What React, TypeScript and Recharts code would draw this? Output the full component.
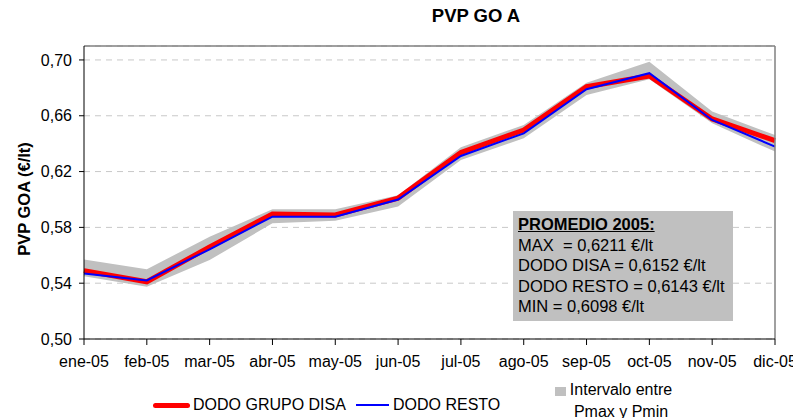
import React from 'react';
import { ComposedChart, Line, Area, XAxis, YAxis, CartesianGrid, ReferenceLine } from 'recharts';

const months = ['ene-05', 'feb-05', 'mar-05', 'abr-05', 'may-05', 'jun-05', 'jul-05', 'ago-05', 'sep-05', 'oct-05', 'nov-05', 'dic-05'];
const disa = [0.549, 0.541, 0.566, 0.5896, 0.5889, 0.601, 0.6336, 0.6498, 0.6808, 0.6885, 0.6577, 0.6422];
const resto = [0.547, 0.542, 0.5643, 0.5877, 0.5877, 0.6, 0.6312, 0.6474, 0.679, 0.6905, 0.657, 0.6379];
const pmax = [0.557, 0.55, 0.5733, 0.593, 0.593, 0.603, 0.6374, 0.6534, 0.6837, 0.6988, 0.663, 0.6462];
const pmin = [0.545, 0.5375, 0.5566, 0.5829, 0.5848, 0.595, 0.6283, 0.6439, 0.6749, 0.6862, 0.6546, 0.6343];
const yTicks = [0.5, 0.54, 0.58, 0.62, 0.66, 0.7];
const summaryLines = ['MAX  = 0,6211 €/lt', 'DODO DISA = 0,6152 €/lt', 'DODO RESTO = 0,6143 €/lt', 'MIN = 0,6098 €/lt'];

const data = months.map((m, i) => ({ month: m, disa: disa[i], resto: resto[i], band: [pmin[i], pmax[i]] }));

const FONT = '"Liberation Sans", Arial, sans-serif';
const fmt = (v: number) => v.toFixed(2).replace('.', ',');

const abs = (extra: React.CSSProperties): React.CSSProperties => ({ position: 'absolute', whiteSpace: 'pre', ...extra });

export default function App() {
  return (
    <div style={{ position: 'absolute', left: 0, top: 0, width: 793, height: 418, background: '#fff', fontFamily: FONT, overflow: 'hidden', color: '#000' }}>
      <ComposedChart width={793} height={418} data={data} margin={{ top: 46, right: 18, bottom: 49, left: 0 }}>
        <CartesianGrid horizontal vertical={false} stroke="#c8c8c8" strokeDasharray="6 5" />
        <Area dataKey="band" type="linear" fill="#c0c0c0" fillOpacity={1} stroke="none" isAnimationActive={false} activeDot={false} />
        <Line dataKey="disa" type="linear" stroke="#ff0000" strokeWidth={5} dot={false} activeDot={false} isAnimationActive={false} />
        <Line dataKey="resto" type="linear" stroke="#0000ff" strokeWidth={2} dot={false} activeDot={false} isAnimationActive={false} />
        <ReferenceLine y={0.71} stroke="#808080" strokeWidth={1.5} />
        <ReferenceLine x="dic-05" stroke="#808080" strokeWidth={1.5} />
        <XAxis dataKey="month" interval={0} height={30} tickSize={6} tickMargin={11} stroke="#000"
          tick={{ fill: '#000', fontSize: 16, fontFamily: FONT }} />
        <YAxis domain={[0.5, 0.71]} ticks={yTicks} width={84} tickSize={5} tickMargin={7} stroke="#000"
          tickFormatter={fmt} tick={{ fill: '#000', fontSize: 16, fontFamily: FONT }} allowDataOverflow />
      </ComposedChart>

      <div style={abs({ left: 476, top: 16, transform: 'translate(-50%, -50%)', fontSize: 18.5, fontWeight: 'bold', lineHeight: '22px' })}>PVP GO A</div>
      <div style={abs({ left: 24, top: 199, transform: 'translate(-50%, -50%) rotate(-90deg)', fontSize: 16.5, fontWeight: 'bold', lineHeight: '20px' })}>PVP GOA (€/lt)</div>

      <div style={abs({ left: 513, top: 211, width: 220, height: 110, background: '#c0c0c0', boxSizing: 'border-box', paddingLeft: 5, paddingTop: 3, fontSize: 16.5, lineHeight: '20.5px' })}>
        <div style={{ fontWeight: 'bold', textDecoration: 'underline' }}>PROMEDIO 2005:</div>
        {summaryLines.map((t) => (<div key={t}>{t}</div>))}
      </div>

      <div style={abs({ left: 153, top: 402.5, width: 37, height: 5, background: '#ff0000', borderRadius: 2.5 })} />
      <div style={abs({ left: 193, top: 405, transform: 'translateY(-50%)', fontSize: 16, lineHeight: '20px' })}>DODO GRUPO DISA</div>
      <div style={abs({ left: 356, top: 403.5, width: 33, height: 2, background: '#0000ff' })} />
      <div style={abs({ left: 393, top: 405, transform: 'translateY(-50%)', fontSize: 16, lineHeight: '20px' })}>DODO RESTO</div>
      <div style={abs({ left: 555, top: 387, width: 11, height: 9, background: '#c0c0c0' })} />
      <div style={abs({ left: 621, top: 390, transform: 'translate(-50%, -50%)', fontSize: 16, lineHeight: '20px' })}>Intervalo entre</div>
      <div style={abs({ left: 621, top: 411.5, transform: 'translate(-50%, -50%)', fontSize: 16, lineHeight: '20px' })}>Pmax y Pmin</div>
    </div>
  );
}
